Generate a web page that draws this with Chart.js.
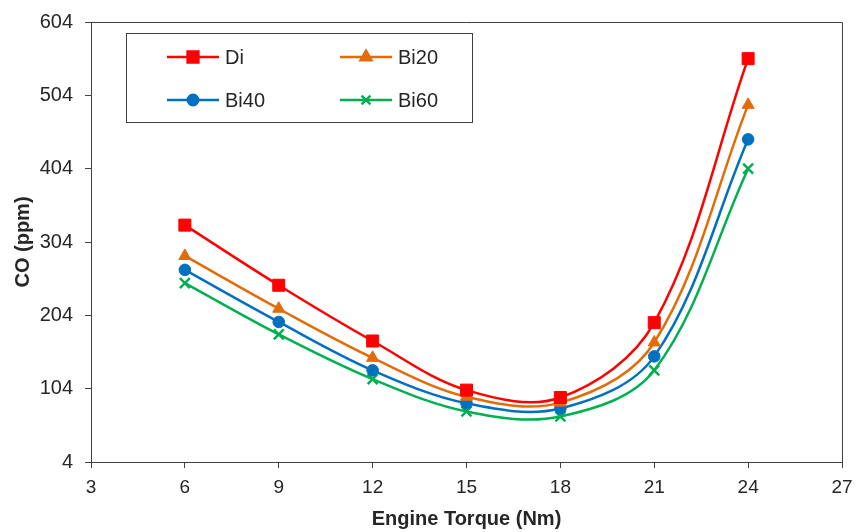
<!DOCTYPE html>
<html>
<head>
<meta charset="utf-8">
<title>CO emissions vs engine torque</title>
<script src="https://cdn.jsdelivr.net/npm/chart.js@4"></script>
<style>
    html, body { margin: 0; padding: 0; background: #ffffff; }
    #wrap { width: 856px; height: 532px; }
</style>
</head>
<body>
<div id="wrap"><canvas id="co-chart" width="856" height="532"></canvas></div>
<script>
// Engine torque (Nm) and CO emissions (ppm) per fuel blend
const torque = [6, 9, 12, 15, 18, 21, 24];
const coDi   = [327, 245, 169, 102, 92, 194, 554];
const coBi20 = [285, 213, 146, 93, 85, 167, 491];
const coBi40 = [266, 195, 129, 84, 77, 148, 444];
const coBi60 = [248, 178, 117, 73, 66, 129, 404];

const xTicks = [3, 6, 9, 12, 15, 18, 21, 24, 27];
const yTicks = [4, 104, 204, 304, 404, 504, 604];

const AXIS_COLOR = '#404040';
const TEXT_COLOR = '#262626';
const FONT = '"Liberation Sans", Arial, sans-serif';

function toPoints(values) {
    return values.map((v, i) => ({ x: torque[i], y: v }));
}

function series(label, values, color, style, radius) {
    return {
        label: label,
        data: toPoints(values),
        borderColor: color,
        backgroundColor: color,
        borderWidth: 2.5,
        pointStyle: style,
        pointRadius: radius,
        pointHoverRadius: radius,
        pointBackgroundColor: color,
        pointBorderColor: color,
        pointBorderWidth: style === 'crossRot' ? 2.5 : 1,
        tension: 0.35
    };
}

// Plot frame: Excel-style box round the plot area
const framePlugin = {
    id: 'frame',
    beforeDatasetsDraw(chart) {
        const { ctx, chartArea } = chart;
        ctx.save();
        ctx.strokeStyle = AXIS_COLOR;
        ctx.lineWidth = 1;
        ctx.beginPath();
        ctx.moveTo(chartArea.left, Math.round(chartArea.top) + 0.5);
        ctx.lineTo(Math.round(chartArea.right) + 0.5, Math.round(chartArea.top) + 0.5);
        ctx.lineTo(Math.round(chartArea.right) + 0.5, chartArea.bottom);
        ctx.stroke();
        ctx.restore();
    }
};

// Boxed 2x2 legend inside the plot
const boxLegendPlugin = {
    id: 'boxLegend',
    afterDraw(chart) {
        const ctx = chart.ctx;
        ctx.save();
        ctx.fillStyle = '#ffffff';
        ctx.fillRect(126, 33, 346, 89);
        ctx.strokeStyle = AXIS_COLOR;
        ctx.lineWidth = 1;
        ctx.strokeRect(126.5, 33.5, 346, 89);

        ctx.font = '20px ' + FONT;
        ctx.textBaseline = 'middle';
        ctx.textAlign = 'left';
        chart.data.datasets.forEach((ds, i) => {
            const col = i % 2;
            const row = Math.floor(i / 2);
            const x0 = 167 + col * 173;
            const y = 57 + row * 43;
            ctx.strokeStyle = ds.borderColor;
            ctx.fillStyle = ds.borderColor;
            ctx.lineWidth = 2.5;
            ctx.beginPath();
            ctx.moveTo(x0, y);
            ctx.lineTo(x0 + 52, y);
            ctx.stroke();
            Chart.helpers.drawPoint(ctx, {
                pointStyle: ds.pointStyle,
                radius: ds.pointRadius * 0.9,
                rotation: 0,
                borderWidth: ds.pointBorderWidth
            }, x0 + 26, y);
            ctx.fillStyle = TEXT_COLOR;
            ctx.fillText(ds.label, x0 + 58, y + 1);
        });
        ctx.restore();
    }
};

const ctx = document.getElementById('co-chart').getContext('2d');
const coChart = new Chart(ctx, {
    type: 'line',
    data: {
        datasets: [
            series('Di', coDi, '#FF0000', 'rect', 8.5),
            series('Bi20', coBi20, '#E36C0A', 'triangle', 7),
            series('Bi40', coBi40, '#0070C0', 'circle', 5.8),
            series('Bi60', coBi60, '#00B050', 'crossRot', 7)
        ]
    },
    options: {
        responsive: false,
        devicePixelRatio: 1,
        animation: false,
        layout: { padding: { left: 0, top: 22, right: 14, bottom: 0 } },
        plugins: {
            legend: { display: false },
            tooltip: { enabled: false }
        },
        scales: {
            x: {
                type: 'linear',
                min: 3,
                max: 27,
                afterBuildTicks: (scale) => { scale.ticks = xTicks.map(v => ({ value: v })); },
                afterFit: (scale) => {
                    scale.height = 70;
                    scale.paddingLeft = 0;
                    scale.paddingRight = 0;
                },
                grid: { drawOnChartArea: false, drawTicks: true, tickLength: 6, color: AXIS_COLOR },
                border: { color: AXIS_COLOR, width: 1 },
                ticks: {
                    padding: 8,
                    color: TEXT_COLOR,
                    font: { family: FONT, size: 19 },
                    maxRotation: 0
                },
                title: {
                    display: true,
                    text: 'Engine Torque (Nm)',
                    color: TEXT_COLOR,
                    font: { family: FONT, size: 20, weight: 'bold' },
                    padding: { top: 0, bottom: 1 }
                }
            },
            y: {
                min: 4,
                max: 604,
                afterBuildTicks: (scale) => { scale.ticks = yTicks.map(v => ({ value: v })); },
                afterFit: (scale) => {
                    scale.width = 91;
                    scale.paddingTop = 0;
                    scale.paddingBottom = 0;
                },
                grid: { drawOnChartArea: false, drawTicks: true, tickLength: 6, color: AXIS_COLOR },
                border: { color: AXIS_COLOR, width: 1 },
                ticks: {
                    padding: 12,
                    color: TEXT_COLOR,
                    font: { family: FONT, size: 20 }
                },
                title: {
                    display: true,
                    text: 'CO (ppm)',
                    color: TEXT_COLOR,
                    font: { family: FONT, size: 20, weight: 'bold' },
                    padding: { top: 11, bottom: 0 }
                }
            }
        }
    },
    plugins: [framePlugin, boxLegendPlugin]
});
</script>
</body>
</html>
